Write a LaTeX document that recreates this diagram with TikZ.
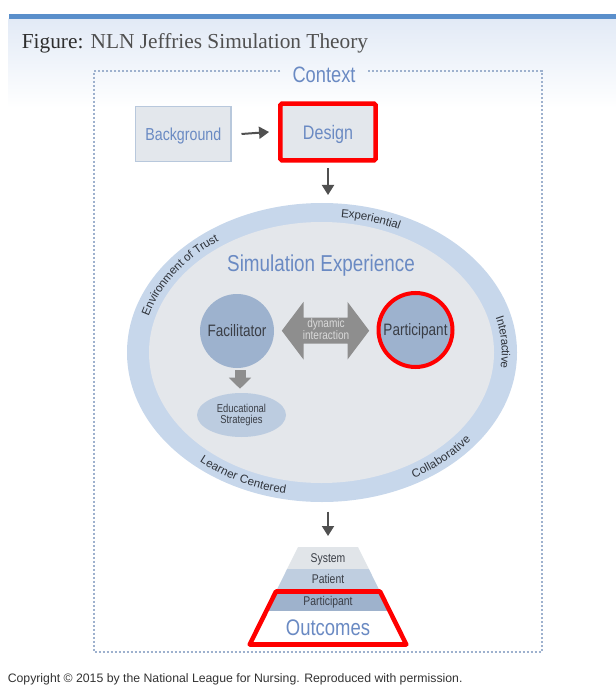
\documentclass[tikz,border=0pt]{standalone}
\usepackage{fontspec}
\setmainfont{Liberation Sans}
\newfontfamily\seriffont{Liberation Serif}
\newfontfamily\cnd{Liberation Sans}[FakeStretch=0.82]
\usetikzlibrary{calc,arrows.meta,decorations.text,shapes.geometric}
\definecolor{barblue}{HTML}{5A8FCB}
\definecolor{headtop}{HTML}{E2EAF6}
\definecolor{dotc}{HTML}{9EB1CE}
\definecolor{txtblue}{HTML}{6A8AC3}
\definecolor{boxfill}{HTML}{E3E7EC}
\definecolor{boxline}{HTML}{B8C8DC}
\definecolor{ringc}{HTML}{C7D7EB}
\definecolor{innerc}{HTML}{E4E7EB}
\definecolor{circc}{HTML}{9DB2CE}
\definecolor{educ}{HTML}{BCCCE0}
\definecolor{darktxt}{HTML}{3A3E46}
\definecolor{ringtxt}{HTML}{2F333A}
\definecolor{arrgray}{HTML}{8E8E8E}
\definecolor{arrtxt}{HTML}{DADADA}
\definecolor{arrdark}{HTML}{505050}
\definecolor{sysc}{HTML}{E1E5E9}
\definecolor{patc}{HTML}{BFCEE0}
\definecolor{parc}{HTML}{9EB2CC}
\definecolor{hired}{HTML}{FF0000}
\definecolor{titledark}{HTML}{2E2E2E}
\definecolor{titlegray}{HTML}{505050}
\definecolor{copyc}{HTML}{333333}
\newcommand\ringfont{\fontsize{8.7pt}{10pt}\selectfont}
\begin{document}
\begin{tikzpicture}[x=0.75pt,y=-0.75pt,
  darrow/.style={arrdark, line width=1.5pt, -{Triangle[width=9pt,length=7.5pt]}},
  fatarrow/.style={arrgray, line width=8.25pt, -{Triangle[width=16.3pt,length=8.25pt]}},
  boxstyle/.style={rectangle, fill=boxfill, inner sep=0pt, text=txtblue},
  cndtext/.style={inner sep=0pt, font=\cnd\fontsize{#1}{#1}\selectfont},
  ringtext/.style={decorate, decoration={text along path, text align=center, raise=-3pt, text color=ringtxt, text={|\ringfont|#1}}}
]
\useasboundingbox (0,0) rectangle (616,695);
% header
\shade[top color=headtop, bottom color=white] (8.6,19) rectangle (616,108);
\fill[barblue] (8.6,14) rectangle (616,19);
\node[anchor=base west, inner sep=0pt, font=\seriffont\fontsize{16pt}{18pt}\selectfont] (title) at (21.6,48.3) {\textcolor{titledark}{Figure:} \textcolor{titlegray}{NLN Jeffries Simulation Theory}};
% context frame
\coordinate (frTL) at (94.3,70.7);
\coordinate (frBR) at (541.5,652.3);
\node[anchor=base, inner xsep=9pt, inner ysep=0pt, text=txtblue, font=\cnd\fontsize{16.7pt}{16.7pt}\selectfont] (ctx) at (324,82.7) {Context};
\draw[dotc, line width=1.5pt, dash pattern=on 1.4pt off 1.6pt] (ctx.west |- frTL) -- (frTL) -- (frTL |- frBR) -- (frBR) -- (frBR |- frTL) -- (ctx.east |- frTL);
% background and design
\node[boxstyle, draw=boxline, line width=0.8pt, minimum width=71.5pt, minimum height=41pt, font=\cnd\fontsize{13pt}{13pt}\selectfont, text depth=0pt] (bg) at (183.3,134) {Background};
\node[boxstyle, draw=hired, line width=3.4pt, rounded corners=1.2pt, minimum width=71.5pt, minimum height=42.5pt, font=\cnd\fontsize{14.7pt}{14.7pt}\selectfont, text depth=0pt] (design) at (328,132) {Design};
\draw[darrow] ($(bg.east)+(10,0)$) -- ($(design.west)+(-9,0)$);
% simulation experience ellipse
\node[ellipse, fill=ringc, inner sep=0pt, outer sep=0pt, minimum width=292.5pt, minimum height=224.25pt] (ring) at (322,352.5) {};
\node[ellipse, fill=innerc, inner sep=0pt, outer sep=0pt, minimum width=258.75pt, minimum height=195.75pt] (sim) at (321.5,352.5) {};
\draw[darrow] ($(design.south)+(0,5.5)$) -- ($(design.south |- ring.north)+(0,-8)$);
\node[anchor=base, cndtext=17.25pt, text=txtblue] (simtitle) at (321,271.7) {Simulation Experience};
% ring texts
\coordinate (C) at (322,352.5);
\path[ringtext=Experiential] ($(C)+(-96:183.75 and 140)$) arc[start angle=-96, end angle=-52, x radius=183.75, y radius=140];
\path[ringtext=Environment of Trust] ($(C)+(-179:183.75 and 140)$) arc[start angle=-179, end angle=-113, x radius=183.75, y radius=140];
\path[ringtext=Interactive] ($(C)+(-28:183.75 and 140)$) arc[start angle=-28, end angle=20, x radius=183.75, y radius=140];
\path[ringtext=Collaborative] ($(C)+(72:183.75 and 140)$) arc[start angle=72, end angle=24, x radius=183.75, y radius=140];
\path[ringtext=Learner Centered] ($(C)+(146:183.75 and 140)$) arc[start angle=146, end angle=88, x radius=183.75, y radius=140];
% facilitator and participant
\node[circle, fill=circc, inner sep=0pt, minimum size=55.5pt, text=darktxt, text depth=0pt, font=\cnd\fontsize{12.4pt}{12.4pt}\selectfont] (fac) at (237,331) {Facilitator};
\node[circle, fill=circc, draw=hired, line width=3pt, inner sep=0pt, minimum size=55.5pt, text=darktxt, text depth=0pt, font=\cnd\fontsize{12.4pt}{12.4pt}\selectfont] (par) at (415.5,330) {Participant};
% dynamic interaction double arrow
\coordinate (dyn) at (325.5,330.7);
\begin{scope}[shift={(dyn)}]
\fill[arrgray] (-43.7,0) -- (-22,-28.8) -- (-22,-13) -- (22,-13) -- (22,-28.8) -- (43.7,0) -- (22,28.8) -- (22,13) -- (-22,13) -- (-22,28.8) -- cycle;
\end{scope}
\node[anchor=base, cndtext=9.2pt, text=arrtxt] (dyn1) at (326,327.7) {dynamic};
\node[anchor=base, cndtext=9.2pt, text=arrtxt] (dyn2) at (326,339) {interaction};
% educational strategies
\node[ellipse, fill=educ, inner sep=0pt, minimum width=66.75pt, minimum height=33pt, text=darktxt, align=center, font=\cnd\fontsize{8.6pt}{8.8pt}\selectfont] (edu) at (241.5,415) {Educational\\Strategies};
\draw[fatarrow] ($(edu.north |- fac.south)+(-1.5,2)$) -- ($(edu.north)+(-1.5,-4)$);
% outcomes pyramid
\coordinate (pyrtop) at (328,547);
\fill[sysc] (298,547) -- (358,547) -- (368.9,569) -- (287.1,569) -- cycle;
\fill[patc] (287.1,569) -- (368.9,569) -- (379.3,590) -- (276.7,590) -- cycle;
\fill[parc] (276.7,590) -- (379.3,590) -- (389.7,611) -- (266.3,611) -- cycle;
\fill[white] (266.3,611) -- (389.7,611) -- (405.5,643) -- (250.5,643) -- cycle;
\draw[hired, line width=3.4pt, line join=round] (276,591.5) -- (380,591.5) -- (406.3,644.5) -- (249.7,644.5) -- cycle;
\node[anchor=base, cndtext=9.5pt, text=darktxt] (sys) at (328,562.3) {System};
\node[anchor=base, cndtext=9.5pt, text=darktxt] (pat) at (328,583.7) {Patient};
\node[anchor=base, cndtext=9.5pt, text=darktxt] (par2) at (328,605) {Participant};
\node[anchor=base, cndtext=16.9pt, text=txtblue] (out) at (328,635) {Outcomes};
\draw[darrow] ($(ring.south -| pyrtop)+(0,9.7)$) -- ($(pyrtop)+(0,-11)$);
% copyright
\node[anchor=base west, inner sep=0pt, text=copyc, font=\fontsize{9.2pt}{10pt}\selectfont] (copy) at (7.5,682.7) {Copyright © 2015 by the National League for Nursing. Reproduced with permission.};
\end{tikzpicture}
\end{document}
